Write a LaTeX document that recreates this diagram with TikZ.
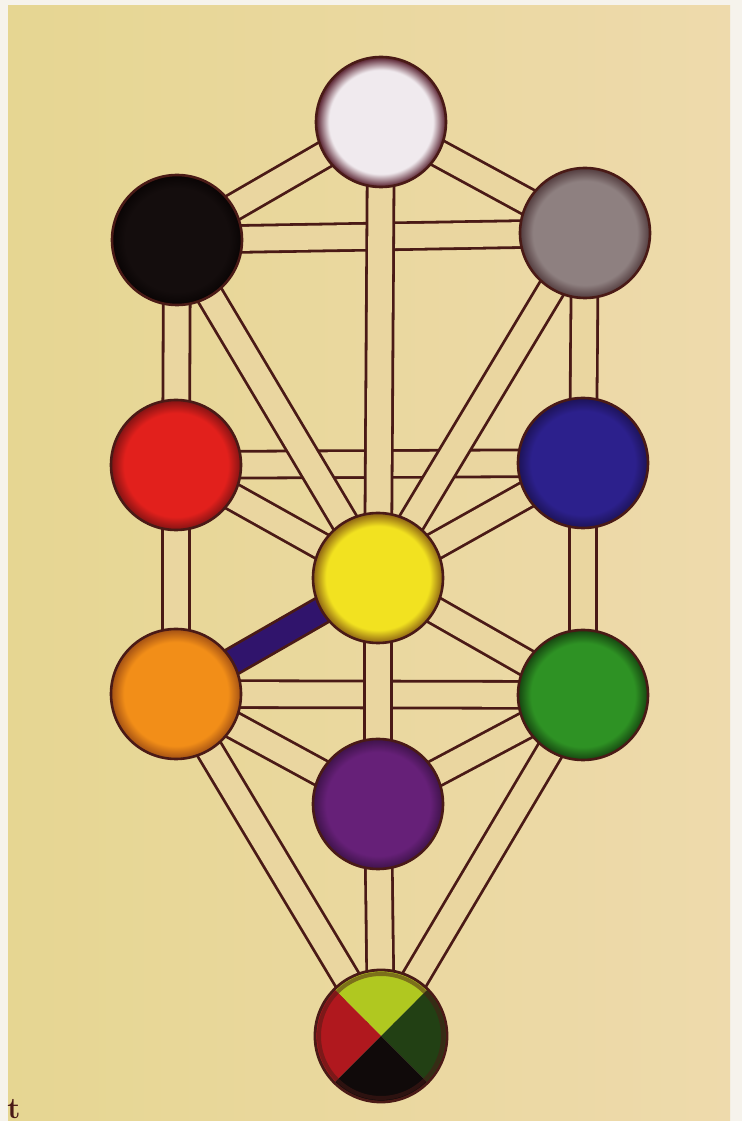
\documentclass[tikz,border=0pt]{standalone}
\usepackage{tikz}
\usetikzlibrary{calc}
\usepackage{xcolor}

\definecolor{margin}{RGB}{246,243,236}
\definecolor{paper}{RGB}{234,214,160}
\definecolor{paperleft}{RGB}{230,214,146}
\definecolor{paperright}{RGB}{238,218,172}
\definecolor{ink}{RGB}{74,26,22}
\definecolor{indigopath}{RGB}{48,20,108}
\definecolor{ketherin}{RGB}{240,234,238}
\definecolor{ketherout}{RGB}{100,48,62}
\definecolor{chokmahin}{RGB}{142,128,128}
\definecolor{chokmahout}{RGB}{88,66,68}
\definecolor{binahin}{RGB}{20,13,13}
\definecolor{binahout}{RGB}{10,5,5}
\definecolor{chesedin}{RGB}{44,32,140}
\definecolor{chesedout}{RGB}{30,20,92}
\definecolor{geburahin}{RGB}{226,32,28}
\definecolor{geburahout}{RGB}{140,20,20}
\definecolor{tipharethin}{RGB}{242,226,32}
\definecolor{tipharethout}{RGB}{150,110,20}
\definecolor{netzachin}{RGB}{46,146,36}
\definecolor{netzachout}{RGB}{24,76,18}
\definecolor{hodin}{RGB}{242,142,24}
\definecolor{hodout}{RGB}{170,86,20}
\definecolor{yesodin}{RGB}{102,32,120}
\definecolor{yesodout}{RGB}{66,20,78}
\definecolor{citrine}{RGB}{176,200,32}
\definecolor{russet}{RGB}{176,24,30}
\definecolor{olivegreen}{RGB}{34,64,20}
\definecolor{sable}{RGB}{16,10,10}

\colorlet{sephin}{white}
\colorlet{sephout}{black}
\pgfdeclareradialshading[sephin,sephout]{sephglow}{\pgfpointorigin}{color(0bp)=(sephin); color(20bp)=(sephin); color(24.5bp)=(sephout); color(50bp)=(sephout)}

\pgfdeclarelayer{paperlayer}
\pgfdeclarelayer{pathlayer}
\pgfsetlayers{paperlayer,pathlayer,main}

\begin{document}
\begin{tikzpicture}[x=0.5pt,y=0.5pt,
  seph/.style={circle,draw=ink,line width=1.3pt,minimum size=65pt,inner sep=0pt,
    shade,shading=sephglow,/utils/exec={\colorlet{sephin}{#1in}\colorlet{sephout}{#1out}}},
  channel/.style={draw=ink,line width=1.4pt,double=paper,double distance=12pt}]
\useasboundingbox (0,0) rectangle (742,1121);

\node[seph=kether] (kether) at (381,999) {};
\node[seph=chokmah] (chokmah) at (585,888) {};
\node[seph=binah] (binah) at (177,881) {};
\node[seph=chesed] (chesed) at (583,658) {};
\node[seph=geburah] (geburah) at (176,656) {};
\node[seph=tiphareth] (tiphareth) at (378,543) {};
\node[seph=netzach] (netzach) at (583,426) {};
\node[seph=hod] (hod) at (176,427) {};
\node[seph=yesod] (yesod) at (378,317) {};
\node[circle,draw=ink,line width=1.4pt,minimum size=66pt,inner sep=0pt,
  path picture={
    \fill[citrine] (path picture bounding box.center) -- +(45:60pt) -- +(135:60pt) -- cycle;
    \fill[russet] (path picture bounding box.center) -- +(135:60pt) -- +(225:60pt) -- cycle;
    \fill[olivegreen] (path picture bounding box.center) -- +(-45:60pt) -- +(45:60pt) -- cycle;
    \fill[sable] (path picture bounding box.center) -- +(225:60pt) -- +(315:60pt) -- cycle;
    \draw[ink,opacity=0.5,line width=2pt] (path picture bounding box.center) circle[radius=31pt];
  }] (malkuth) at (381,85) {};

\node[anchor=base west,inner sep=0pt,text=ink,font=\fontsize{15}{17}\selectfont\bfseries] (tmark) at (7,3) {t};

\begin{pgfonlayer}{paperlayer}
\fill[margin] (0,0) rectangle (742,1121);
\shade[left color=paperleft,right color=paperright] (8,0) rectangle (730,1115);
\end{pgfonlayer}

\begin{pgfonlayer}{pathlayer}
% horizontal paths
\draw[channel] (chokmah.center) -- (binah.center);
\draw[channel] (chesed.center) -- (geburah.center);
\draw[channel] (netzach.center) -- (hod.center);
% diagonal paths
\draw[channel] (kether.center) -- (chokmah.center);
\draw[channel] (kether.center) -- (binah.center);
\draw[channel] (chokmah.center) -- (tiphareth.center);
\draw[channel] (binah.center) -- (tiphareth.center);
\draw[channel] (chesed.center) -- (tiphareth.center);
\draw[channel] (geburah.center) -- (tiphareth.center);
\draw[channel] (netzach.center) -- (tiphareth.center);
\draw[channel] (netzach.center) -- (yesod.center);
\draw[channel] (hod.center) -- (yesod.center);
\draw[channel] (netzach.center) -- (malkuth.center);
\draw[channel] (hod.center) -- (malkuth.center);
% vertical paths
\draw[channel] (kether.center) -- (tiphareth.center);
\draw[channel] (tiphareth.center) -- (yesod.center);
\draw[channel] (yesod.center) -- (malkuth.center);
\draw[channel] (chokmah.center) -- (chesed.center);
\draw[channel] (chesed.center) -- (netzach.center);
\draw[channel] (binah.center) -- (geburah.center);
\draw[channel] (geburah.center) -- (hod.center);
\draw[channel,double=indigopath] (hod.center) -- (tiphareth.center);
\end{pgfonlayer}
\end{tikzpicture}
\end{document}
